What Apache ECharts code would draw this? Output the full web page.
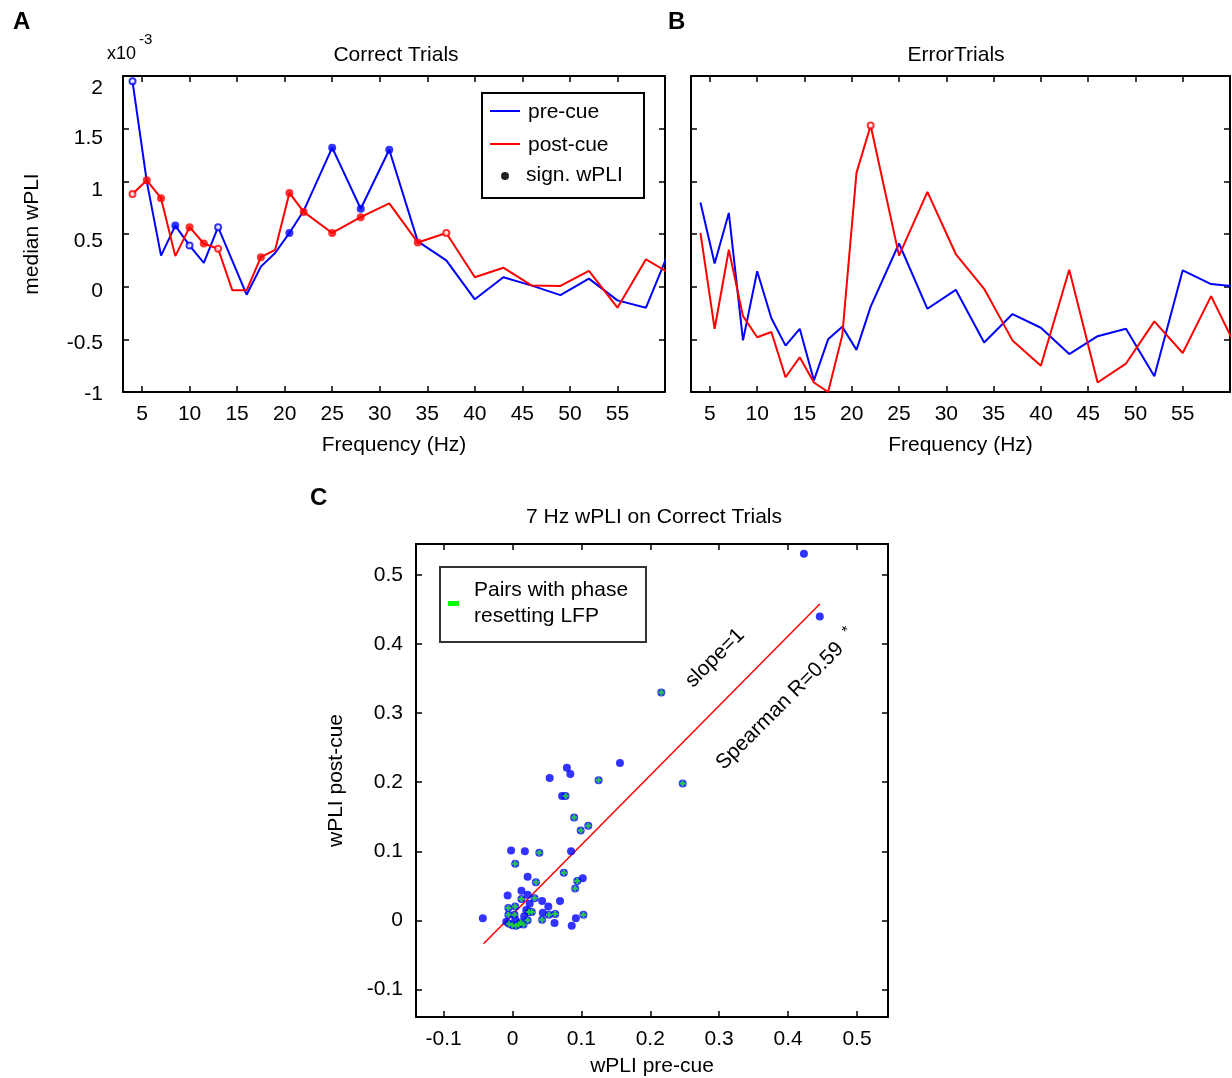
<!DOCTYPE html>
<html>
<head>
<meta charset="utf-8">
<script src="https://cdn.jsdelivr.net/npm/echarts@6/dist/echarts.min.js"></script>
<style>
  html, body { margin: 0; padding: 0; background: #fff; }
  #main { width: 1232px; height: 1078px; }
</style>
</head>
<body>
<div id="main"></div>
<script>
// frequencies (Hz) for panels A and B
var freqs = [4, 5.5, 7, 8.5, 10, 11.5, 13, 14.5, 16, 17.5, 19, 20.5, 22, 25, 28, 31, 34, 37, 40, 43, 46, 49, 52, 55, 58, 61];

// median wPLI (x10^-3), correct trials
var correctPre  = [1.95, 1.0, 0.295, 0.58, 0.39, 0.225, 0.565, 0.245, -0.076, 0.19, 0.32, 0.51, 0.72, 1.32, 0.74, 1.30, 0.43, 0.25, -0.12, 0.09, 0.01, -0.08, 0.076, -0.13, -0.20, 0.46];
var correctPost = [0.88, 1.01, 0.84, 0.29, 0.565, 0.41, 0.36, -0.035, -0.035, 0.28, 0.35, 0.89, 0.71, 0.51, 0.66, 0.79, 0.42, 0.51, 0.09, 0.18, 0.01, 0.007, 0.15, -0.20, 0.26, 0.10];
// 0 = no marker, 1 = filled (sign.), 2 = open
var correctPreSig  = [2, 0, 0, 1, 2, 0, 2, 0, 0, 0, 0, 1, 0, 1, 1, 1, 0, 0, 0, 0, 0, 0, 0, 0, 0, 0];
var correctPostSig = [2, 1, 1, 0, 1, 1, 2, 0, 0, 1, 0, 1, 1, 1, 1, 0, 1, 2, 0, 0, 0, 0, 0, 0, 0, 0];

// error trials
var errorPre  = [0.80, 0.22, 0.70, -0.51, 0.146, -0.30, -0.56, -0.40, -0.89, -0.50, -0.38, -0.60, -0.19, 0.41, -0.21, -0.03, -0.53, -0.26, -0.39, -0.64, -0.47, -0.40, -0.85, 0.155, 0.025, 0.0];
var errorPost = [0.51, -0.40, 0.35, -0.28, -0.48, -0.43, -0.86, -0.67, -0.91, -1.0, -0.46, 1.08, 1.53, 0.295, 0.90, 0.31, -0.02, -0.51, -0.75, 0.16, -0.91, -0.73, -0.33, -0.63, -0.09, -0.64];
var errorPreSig  = [0, 0, 0, 0, 0, 0, 0, 0, 0, 0, 0, 0, 0, 0, 0, 0, 0, 0, 0, 0, 0, 0, 0, 0, 0, 0];
var errorPostSig = [0, 0, 0, 0, 0, 0, 0, 0, 0, 0, 0, 0, 2, 0, 0, 0, 0, 0, 0, 0, 0, 0, 0, 0, 0, 0];

var freqTicks = [5, 10, 15, 20, 25, 30, 35, 40, 45, 50, 55];
var yTicksA = [-1, -0.5, 0, 0.5, 1, 1.5, 2];

// panel C: 7 Hz wPLI per pair
var preCue  = [0.423, 0.446, 0.216, 0.247, 0.156, 0.079, 0.084, 0.054, 0.125, 0.072, 0.077, 0.0895, 0.110, 0.099, -0.002, 0.018, 0.039, 0.085, 0.004, 0.0745, 0.022, 0.102, 0.094, 0.034, 0.091, -0.007, 0.013, 0.022, 0.013, 0.032, 0.004, -0.006, 0.025, 0.043, 0.052, 0.069, -0.043, -0.006, 0.003, 0.024, 0.044, 0.053, 0.062, 0.103, 0.092, 0.043, 0.061, 0.086, 0.022, 0.012, -0.005, 0.0, 0.009, -0.009, 0.004, 0.017, 0.020, 0.028, 0.016, 0.005];
var postCue = [0.531, 0.440, 0.330, 0.198, 0.228, 0.221, 0.212, 0.206, 0.203, 0.180, 0.180, 0.149, 0.137, 0.130, 0.101, 0.100, 0.098, 0.100, 0.082, 0.069, 0.063, 0.061, 0.057, 0.055, 0.046, 0.036, 0.043, 0.037, 0.031, 0.032, 0.020, 0.018, 0.024, 0.028, 0.020, 0.028, 0.003, 0.008, 0.008, 0.012, 0.011, 0.008, 0.009, 0.008, 0.003, 0.001, -0.004, -0.008, 0.0, -0.003, -0.005, -0.007, -0.006, -0.002, 0.001, 0.006, 0.015, 0.012, -0.006, -0.008];
var resetting = [0, 0, 1, 1, 0, 0, 0, 0, 1, 0, 1, 1, 1, 1, 0, 0, 1, 0, 1, 1, 0, 0, 1, 1, 1, 0, 0, 0, 1, 1, 1, 1, 0, 0, 0, 0, 0, 1, 1, 1, 0, 1, 1, 1, 0, 1, 0, 0, 1, 1, 1, 1, 1, 0, 0, 0, 0, 1, 1, 1];
var slopeLineX = [-0.042, 0.446];
var slopeLineY = [-0.034, 0.458];
var wpliTicks = [-0.1, 0, 0.1, 0.2, 0.3, 0.4, 0.5];

var FONT = '"Liberation Sans", Arial, Helvetica, sans-serif';
var FS = 21;
var BLUE = '#0000ff', RED = '#ff0000';

var chart = echarts.init(document.getElementById('main'));

function pairs(xs, ys) {
  return xs.map(function (x, i) { return [x, ys[i]]; });
}
function pick(xs, ys, flags, want) {
  var out = [];
  xs.forEach(function (x, i) { if (flags[i] === want) out.push([x, ys[i]]); });
  return out;
}

var tickStyle = { show: true, inside: true, length: 6, lineStyle: { color: '#000', width: 1.5 } };
var lineStyle = { show: true, onZero: false, lineStyle: { color: '#000', width: 2 } };
var lbl = { color: '#000', fontSize: FS, fontFamily: FONT };
var nameStyle = { color: '#000', fontSize: FS, fontFamily: FONT };

// panel A tick labels sit a little lower than their ticks in the original, more so near the top
var richA = {};
yTicksA.forEach(function (v, i) {
  var drop = Math.round(2 + (v + 1) * 3.3);
  richA['t' + i] = { fontSize: FS, fontFamily: FONT, color: '#000', padding: [drop * 2, 0, 0, 0] };
});
function fmtA(v) {
  var i = yTicksA.indexOf(v);
  return i < 0 ? String(v) : '{t' + i + '|' + v + '}';
}

function xAx(grid, min, max, ticks, name, gap) {
  return [{
    type: 'value', gridIndex: grid, position: 'bottom', min: min, max: max,
    axisLine: lineStyle, splitLine: { show: false },
    axisTick: Object.assign({ customValues: ticks }, tickStyle),
    axisLabel: Object.assign({ customValues: ticks, margin: 12,
      formatter: function (v) { return String(v); } }, lbl),
    name: name, nameLocation: 'middle', nameGap: gap, nameTextStyle: nameStyle
  }, {
    type: 'value', gridIndex: grid, position: 'top', min: min, max: max,
    axisLine: lineStyle, splitLine: { show: false },
    axisTick: Object.assign({ customValues: ticks }, tickStyle),
    axisLabel: { show: false }
  }];
}
function yAx(grid, min, max, ticks, labelOpt, name, gap) {
  return [{
    type: 'value', gridIndex: grid, position: 'left', min: min, max: max,
    axisLine: lineStyle, splitLine: { show: false },
    axisTick: Object.assign({ customValues: ticks }, tickStyle),
    axisLabel: Object.assign({ customValues: ticks }, lbl, labelOpt),
    name: name, nameLocation: 'middle', nameGap: gap, nameRotate: 90, nameTextStyle: nameStyle
  }, {
    type: 'value', gridIndex: grid, position: 'right', min: min, max: max,
    axisLine: lineStyle, splitLine: { show: false },
    axisTick: Object.assign({ customValues: ticks }, tickStyle),
    axisLabel: { show: false }
  }];
}

var xAxes = [].concat(
  xAx(0, 3, 60, freqTicks, 'Frequency (Hz)', 43),
  xAx(1, 3, 60, freqTicks, 'Frequency (Hz)', 43),
  xAx(2, -0.14, 0.545, wpliTicks, 'wPLI pre-cue', 39)
);
var yAxes = [].concat(
  yAx(0, -1, 2, yTicksA, { margin: 20, formatter: fmtA, rich: richA }, 'median wPLI', 80),
  yAx(1, -1, 2, yTicksA, { show: false }, '', 0),
  yAx(2, -0.14, 0.545, wpliTicks, { margin: 13, formatter: function (v) { return String(v); } }, 'wPLI post-cue', 69)
);

function panelSeries(axis, pre, post, preSig, postSig) {
  var s = [];
  [[pre, preSig, BLUE], [post, postSig, RED]].forEach(function (d) {
    s.push({
      type: 'line', xAxisIndex: axis, yAxisIndex: axis, data: pairs(freqs, d[0]),
      symbol: 'none', lineStyle: { color: d[2], width: 2 }, z: 3
    });
    s.push({
      type: 'scatter', xAxisIndex: axis, yAxisIndex: axis, data: pick(freqs, d[0], d[1], 1),
      symbol: 'circle', symbolSize: 8, itemStyle: { color: d[2] }, z: 4
    });
    s.push({
      type: 'scatter', xAxisIndex: axis, yAxisIndex: axis, data: pick(freqs, d[0], d[1], 2),
      symbol: 'circle', symbolSize: 6, itemStyle: { color: '#fff', borderColor: d[2], borderWidth: 2 }, z: 4
    });
  });
  return s;
}

var series = [].concat(
  panelSeries(0, correctPre, correctPost, correctPreSig, correctPostSig),
  panelSeries(2, errorPre, errorPost, errorPreSig, errorPostSig),
  [{
    type: 'line', xAxisIndex: 4, yAxisIndex: 4, data: pairs(slopeLineX, slopeLineY),
    symbol: 'none', lineStyle: { color: RED, width: 1.5 }, z: 2
  }, {
    type: 'scatter', xAxisIndex: 4, yAxisIndex: 4, data: pairs(preCue, postCue),
    symbol: 'circle', symbolSize: 8, itemStyle: { color: BLUE }, z: 3
  }, {
    type: 'scatter', xAxisIndex: 4, yAxisIndex: 4, data: pick(preCue, postCue, resetting, 1),
    symbol: 'path://M2,0H4V2H6V4H4V6H2V4H0V2H2Z', symbolSize: 6, itemStyle: { color: '#22ee22' }, z: 4
  }]
);

function txt(text, x, y, size, opts) {
  opts = opts || {};
  return {
    type: 'text', x: x, y: y, rotation: opts.rot || 0, z: 100,
    style: {
      text: text, font: (opts.bold ? 'bold ' : '') + size + 'px ' + FONT,
      fill: '#000', align: opts.align || 'left', verticalAlign: 'middle',
      textAlign: opts.align || 'left', textVerticalAlign: 'middle'
    }
  };
}

var graphics = [
  txt('A', 13, 22, 24, { bold: true }),
  txt('B', 668, 22, 24, { bold: true }),
  txt('C', 310, 498, 24, { bold: true }),
  txt('Correct Trials', 396, 55, FS, { align: 'center' }),
  txt('ErrorTrials', 956, 55, FS, { align: 'center' }),
  txt('7 Hz wPLI on Correct Trials', 654, 517, FS, { align: 'center' }),
  txt('x10', 107, 54, 18),
  txt('-3', 139, 40, 15),
  // legend A
  { type: 'rect', z: 99, shape: { x: 482, y: 93, width: 162, height: 105 },
    style: { fill: '#fff', stroke: '#000', lineWidth: 2 } },
  { type: 'line', z: 100, shape: { x1: 490, y1: 111, x2: 520, y2: 111 }, style: { stroke: BLUE, lineWidth: 2 } },
  txt('pre-cue', 528, 112, FS),
  { type: 'line', z: 100, shape: { x1: 490, y1: 144, x2: 520, y2: 144 }, style: { stroke: RED, lineWidth: 2 } },
  txt('post-cue', 528, 145, FS),
  { type: 'circle', z: 100, shape: { cx: 505, cy: 176, r: 4 }, style: { fill: '#222' } },
  txt('sign. wPLI', 526, 175, FS),
  // legend C
  { type: 'rect', z: 99, shape: { x: 440, y: 567, width: 206, height: 75 },
    style: { fill: '#fff', stroke: '#333', lineWidth: 2 } },
  { type: 'rect', z: 100, shape: { x: 448, y: 601, width: 11, height: 5 }, style: { fill: '#00ff00' } },
  txt('Pairs with phase', 474, 590, FS),
  txt('resetting LFP', 474, 616, FS),
  // annotations
  txt('slope=1', 715, 658, FS, { align: 'center', rot: Math.PI / 4 }),
  txt('Spearman R=0.59', 780, 706, FS, { align: 'center', rot: Math.PI / 4 }),
  txt('*', 847, 631, 15, { align: 'center', rot: Math.PI / 4 })
];

chart.setOption({
  animation: false,
  backgroundColor: '#fff',
  grid: [
    { left: 123, top: 76, width: 542, height: 316 },
    { left: 691, top: 76, width: 539, height: 316 },
    { left: 416, top: 544, width: 472, height: 473 }
  ],
  xAxis: xAxes,
  yAxis: yAxes,
  series: series,
  graphic: graphics
});
</script>
</body>
</html>
